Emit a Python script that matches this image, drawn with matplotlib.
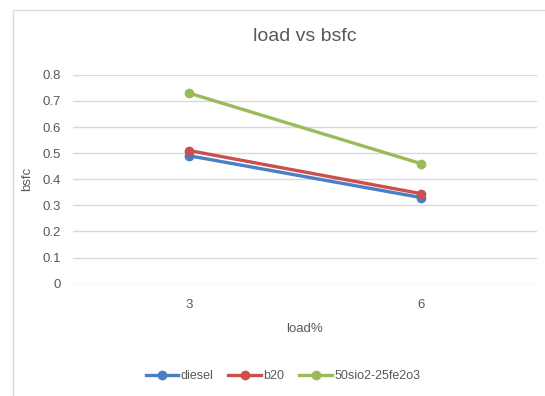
import matplotlib.pyplot as plt
from matplotlib.patches import Rectangle

plt.rcParams['font.family'] = ['Liberation Sans Narrow', 'Liberation Sans', 'DejaVu Sans']

loads = ['3', '6']
diesel = [0.49, 0.33]
b20 = [0.51, 0.345]
nano = [0.73, 0.46]

fig = plt.figure(figsize=(5.45, 3.96), dpi=100)
# chart frame
fig.patches.append(Rectangle((13 / 545, -0.1), 1.2, (396 - 10) / 396 + 0.1,
                             transform=fig.transFigure, fill=False,
                             edgecolor='#d9d9d9', linewidth=1))

ax = fig.add_axes([0.134, 0.2836, 0.851, 0.5275])
x = range(len(loads))
ax.plot(x, diesel, color='#4a7ec6', lw=2.4, marker='o', ms=6, label='diesel', zorder=3)
ax.plot(x, b20, color='#c9504d', lw=2.4, marker='o', ms=6, label='b20', zorder=4)
ax.plot(x, nano, color='#9bbb59', lw=2.4, marker='o', ms=6, label='50sio2-25fe2o3', zorder=3)

ax.set_xlim(-0.5, len(loads) - 0.5)
ax.set_ylim(0, 0.8)
ax.set_yticks([i / 10 for i in range(9)])
ax.set_yticklabels(['0'] + ['%.1f' % (i / 10) for i in range(1, 9)])
ax.set_xticks(list(x))
ax.set_xticklabels(loads)
ax.grid(axis='y', color='#d9d9d9', lw=1)
ax.set_axisbelow(True)
for s in ax.spines.values():
    s.set_visible(False)
ax.tick_params(length=0, colors='#595959', labelsize=9.5)
ax.tick_params(axis='x', pad=11)
ax.tick_params(axis='y', pad=9)

ax.set_title('load vs bsfc', fontsize=14, color='#595959', pad=24)
ax.set_xlabel('load%', fontsize=9.5, color='#595959', labelpad=9)
ax.set_ylabel('bsfc', fontsize=9.5, color='#595959')
ax.yaxis.set_label_coords(-0.085, 0.5)

fig.legend(loc='center', bbox_to_anchor=(283 / 545, 1 - 376 / 396), ncol=3,
           frameon=False, fontsize=9, handlelength=2.6, columnspacing=1.2,
           handletextpad=0.2, labelcolor='#595959')

fig.savefig('out.png', dpi=100)
